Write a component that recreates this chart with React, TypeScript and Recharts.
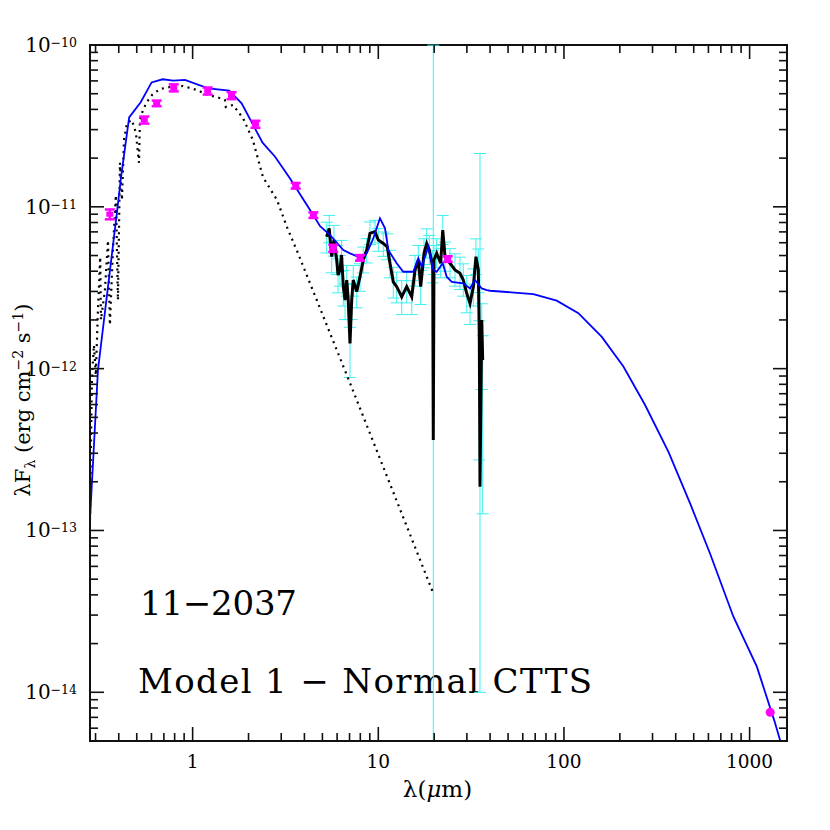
import React from 'react';
import { ComposedChart, Line, Scatter, XAxis, YAxis, ErrorBar, ReferenceArea, Customized } from 'recharts';

// ---- Model SED (blue) ----
const modelWave = [0.280,0.309,0.391,0.411,0.455,0.525,0.601,0.689,0.786,0.909,1.213,1.574,1.836,2.38,2.78,3.34,4.29,4.86,5.50,6.48,7.04,8.14,8.66,9.33,10.21,10.87,11.32,12.56,13.63,15.44,16.43,17.14,18.59,19.78,20.63,22.24,23.36,24.86,28.70,31.19,33.19,36.08,38.37,40.0,68.4,91.4,119.6,159.9,209,273.5,365.5,478,612,818,1094,1356,1550];
const modelFlux = [1.17e-13,9.8e-13,9.2e-12,1.51e-11,3.57e-11,4.43e-11,5.87e-11,6.14e-11,6.02e-11,6.08e-11,5.40e-11,5.22e-11,4.36e-11,2.49e-11,2.04e-11,1.50e-11,9.55e-12,7.60e-12,6.69e-12,5.41e-12,5.16e-12,4.81e-12,5.16e-12,6.24e-12,8.49e-12,7.36e-12,5.41e-12,4.48e-12,3.97e-12,3.97e-12,4.81e-12,4.27e-12,5.66e-12,4.07e-12,3.97e-12,4.48e-12,3.70e-12,3.44e-12,3.37e-12,3.13e-12,3.53e-12,3.13e-12,3.06e-12,3.03e-12,2.89e-12,2.63e-12,2.20e-12,1.57e-12,1.03e-12,5.96e-13,3.06e-13,1.47e-13,7.21e-14,2.93e-14,1.44e-14,6.73e-15,4.0e-15];

// ---- Stellar photosphere (dotted) ----
const photWave = [0.280,0.283,0.2867,0.294,0.301,0.309,0.3177,0.3208,0.337,0.350,0.3584,0.372,0.386,0.396,0.406,0.416,0.427,0.443,0.471,0.495,0.514,0.520,0.540,0.567,0.604,0.667,0.755,0.887,1.054,1.21,1.352,1.493,1.51,1.649,1.867,2.11,2.39,2.85,3.22,3.69,7.04,19.8];
const photFlux = [1.17e-13,3.14e-13,8.5e-13,1.40e-12,9.1e-13,2.30e-12,4.90e-12,2.0e-12,3.06e-12,6.2e-12,1.86e-12,5.4e-12,1.18e-11,2.65e-12,1.87e-11,1.10e-11,2.59e-11,3.30e-11,3.44e-11,2.86e-11,1.87e-11,3.44e-11,3.96e-11,4.44e-11,4.91e-11,5.35e-11,5.50e-11,5.58e-11,5.27e-11,4.91e-11,4.77e-11,4.57e-11,4.14e-11,4.26e-11,3.54e-11,2.59e-11,1.53e-11,1.10e-11,7.5e-12,5.18e-12,8.15e-13,4.08e-14];

// ---- IRS spectrum (black) with errors in dex (cyan) ----
const irsWave = [5.27,5.44,5.61,5.77,5.97,6.07,6.22,6.34,6.48,6.62,6.76,6.89,7.04,7.19,7.33,7.65,7.97,8.30,8.66,9.02,9.60,10.0,10.64,11.18,11.56,12.04,12.56,13.37,14.22,15.14,15.77,16.43,16.92,17.63,18.23,18.83,19.64,19.78,19.95,20.63,21.68,22.24,22.88,24.33,25.88,27.54,28.70,29.94,31.19,32.51,33.57,34.58,35.0,35.3,36.08,36.5];
const irsFlux = [6.53e-12,7.36e-12,4.92e-12,6.24e-12,4.69e-12,3.79e-12,4.07e-12,5.04e-12,3.21e-12,2.65e-12,3.53e-12,2.65e-12,1.43e-12,2.65e-12,3.53e-12,2.99e-12,3.70e-12,4.69e-12,5.41e-12,6.86e-12,7.02e-12,6.24e-12,5.94e-12,5.66e-12,4.48e-12,3.44e-12,3.21e-12,2.78e-12,3.21e-12,2.78e-12,4.07e-12,4.69e-12,3.21e-12,5.16e-12,5.94e-12,5.41e-12,4.27e-12,3.62e-13,4.69e-12,5.16e-12,4.48e-12,7.19e-12,4.92e-12,4.48e-12,4.07e-12,3.88e-12,3.53e-12,2.92e-12,2.53e-12,3.21e-12,4.92e-12,4.07e-12,1.57e-12,1.86e-13,2.0e-12,1.13e-12];
const irsErrLoDex = [0.10,0.09,0.10,0.10,0.09,0.11,0.10,0.10,0.12,0.12,0.10,0.12,0.21,0.12,0.10,0.10,0.09,0.08,0.08,0.07,0.07,0.07,0.08,0.08,0.09,0.10,0.10,0.11,0.10,0.11,0.10,0.09,0.11,0.09,0.09,0.09,0.10,1.86,0.09,0.09,0.09,0.09,0.09,0.09,0.10,0.10,0.10,0.12,0.13,0.12,0.11,0.14,0.76,1.27,0.43,0.95];
const irsErrHiDex = [0.09,0.08,0.09,0.09,0.09,0.10,0.09,0.09,0.10,0.10,0.09,0.10,0.10,0.10,0.09,0.09,0.08,0.08,0.07,0.07,0.07,0.07,0.07,0.08,0.08,0.09,0.09,0.10,0.09,0.10,0.09,0.09,0.10,0.09,0.09,0.09,0.10,2.44,0.09,0.09,0.09,0.09,0.09,0.09,0.10,0.10,0.10,0.11,0.12,0.11,0.11,0.13,0.10,2.06,0.10,0.15];

// ---- Photometry (magenta) ----
const obsWave = [0.358,0.549,0.640,0.791,1.205,1.62,2.18,3.59,4.47,5.72,7.97,23.65];
const obsFlux = [9.0e-12,3.44e-11,4.36e-11,5.44e-11,5.20e-11,4.87e-11,3.24e-11,1.35e-11,8.89e-12,5.55e-12,4.84e-12,4.76e-12];
const obsErrFrac = [0.07,0.05,0.04,0.05,0.05,0.05,0.05,0.04,0.04,0.05,0.04,0.04];
const mmWave = [1291];
const mmFlux = [7.52e-15];

// ---- Axes ----
const xDomain = [0.28, 1590];
const yDomain = [5e-15, 1e-10];
const tickMantissas = [1, 2, 3, 4, 5, 6, 7, 8, 9];
const xDecades = [0.1, 1, 10, 100, 1000];
const yDecades = [1e-15, 1e-14, 1e-13, 1e-12, 1e-11, 1e-10];

const buildTicks = (decades: number[], dom: number[]) => {
  const out: number[] = [];
  decades.forEach((d) => tickMantissas.forEach((m) => {
    const v = m * d;
    if (v >= dom[0] * 0.999 && v <= dom[1] * 1.001) out.push(v);
  }));
  return out;
};
const xTicks = buildTicks(xDecades, xDomain);
const yTicks = buildTicks(yDecades, yDomain);

const modelData = modelWave.map((x, i) => ({ x, y: modelFlux[i] }));
const photData = photWave.map((x, i) => ({ x, y: photFlux[i] }));
const irsData = irsWave.map((x, i) => {
  const y = irsFlux[i];
  return { x, y, err: [y - y * Math.pow(10, -irsErrLoDex[i]), y * Math.pow(10, irsErrHiDex[i]) - y] };
});
const obsData = obsWave.map((x, i) => ({ x, y: obsFlux[i], err: obsFlux[i] * obsErrFrac[i] }));
const mmData = mmWave.map((x, i) => ({ x, y: mmFlux[i] }));

const W = 822, H = 822;
const PL = 82, PR = 779, PT = 37, PB = 733;
const FONT = "'DejaVu Serif', serif";
const AX = '#111';

const isMajor = (v: number) => Math.abs(Math.log10(v) - Math.round(Math.log10(v))) < 1e-6;

const XTick = (props: any) => {
  const { x, payload } = props;
  const v = payload.value;
  const major = isMajor(v);
  const len = major ? 14 : 8;
  return (
    <g>
      <line x1={x} x2={x} y1={PB} y2={PB - len} stroke={AX} strokeWidth={1.6} />
      <line x1={x} x2={x} y1={PT} y2={PT + len} stroke={AX} strokeWidth={1.6} />
      {major && (
        <text x={x} y={PB + 27} textAnchor="middle" fontFamily={FONT} fontSize={18.5} fill="#000">
          {String(Math.round(v))}
        </text>
      )}
    </g>
  );
};

const YTick = (props: any) => {
  const { y, payload } = props;
  const v = payload.value;
  const major = isMajor(v);
  const len = major ? 14 : 8;
  const e = Math.round(Math.log10(v));
  return (
    <g>
      <line x1={PL} x2={PL + len} y1={y} y2={y} stroke={AX} strokeWidth={1.6} />
      <line x1={PR} x2={PR - len} y1={y} y2={y} stroke={AX} strokeWidth={1.6} />
      {major && (
        <text x={PL - 13} y={y + 7} textAnchor="end" fontFamily={FONT} fontSize={20} fill="#000">
          10<tspan dy={-5} fontSize={12.5}>{'\u2212' + Math.abs(e)}</tspan>
        </text>
      )}
    </g>
  );
};

const Annotations = () => (
  <g fontFamily={FONT} fill="#000">
    <text x={132} y={607} fontSize={34} textLength={157} lengthAdjust="spacing">11{'\u2212'}2037</text>
    <text x={130} y={685} fontSize={34} textLength={454} lengthAdjust="spacing">Model 1 {'\u2212'} Normal CTTS</text>
    <text x={429.5} y={789} textAnchor="middle" fontSize={23}>
      λ(<tspan fontStyle="italic">μ</tspan>m)
    </text>
    <text transform="translate(22,392) rotate(-90)" textAnchor="middle" fontSize={21}>
      λF<tspan dy={5} fontSize={14}>λ</tspan><tspan dy={-5}> (erg cm</tspan><tspan dy={-7} fontSize={14}>{'\u2212'}2</tspan><tspan dy={7}> s</tspan><tspan dy={-7} fontSize={14}>{'\u2212'}1</tspan><tspan dy={7}>)</tspan>
    </text>
  </g>
);

const NoShape = () => <g />;
const ObsShape = (p: any) => <rect x={p.cx - 3.5} y={p.cy - 2.5} width={7} height={5} fill="#ff00ff" />;
const MmShape = (p: any) => <circle cx={p.cx} cy={p.cy} r={4.5} fill="#ff00ff" />;

export default function App() {
  return (
    <div style={{ width: W, height: H, background: '#fff' }}>
      <ComposedChart width={W} height={H} margin={{ top: PT, right: W - PR, bottom: 0, left: 0 }}>
        <XAxis
          type="number" dataKey="x" scale="log" domain={xDomain} allowDataOverflow
          ticks={xTicks} interval={0} tick={(p: any) => <XTick {...p} />} tickLine={false}
          axisLine={{ stroke: AX, strokeWidth: 2 }} height={H - PB}
        />
        <YAxis
          type="number" dataKey="y" scale="log" domain={yDomain} allowDataOverflow
          ticks={yTicks} interval={0} tick={(p: any) => <YTick {...p} />} tickLine={false}
          axisLine={{ stroke: AX, strokeWidth: 2 }} width={PL}
        />
        <Scatter data={irsData} shape={NoShape} isAnimationActive={false}>
          <ErrorBar dataKey="err" direction="y" width={6} stroke="#3ff0f0" strokeWidth={1} />
        </Scatter>
        <Line data={photData} dataKey="y" type="linear" stroke="#000" strokeWidth={2.2} strokeDasharray="2 4.5" dot={false} isAnimationActive={false} />
        <Line data={irsData} dataKey="y" type="linear" stroke="#000" strokeWidth={3} dot={false} isAnimationActive={false} />
        <Line data={modelData} dataKey="y" type="linear" stroke="#0000ff" strokeWidth={1.8} dot={false} isAnimationActive={false} />
        <Scatter data={obsData} shape={ObsShape} isAnimationActive={false}>
          <ErrorBar dataKey="err" direction="y" width={5} stroke="#ff00ff" strokeWidth={2.5} />
        </Scatter>
        <Scatter data={mmData} shape={MmShape} isAnimationActive={false} />
        <ReferenceArea x1={xDomain[0]} x2={xDomain[1]} y1={yDomain[0]} y2={yDomain[1]} fill="none" stroke={AX} strokeWidth={2} ifOverflow="visible" />
        <Customized component={Annotations} />
      </ComposedChart>
    </div>
  );
}
